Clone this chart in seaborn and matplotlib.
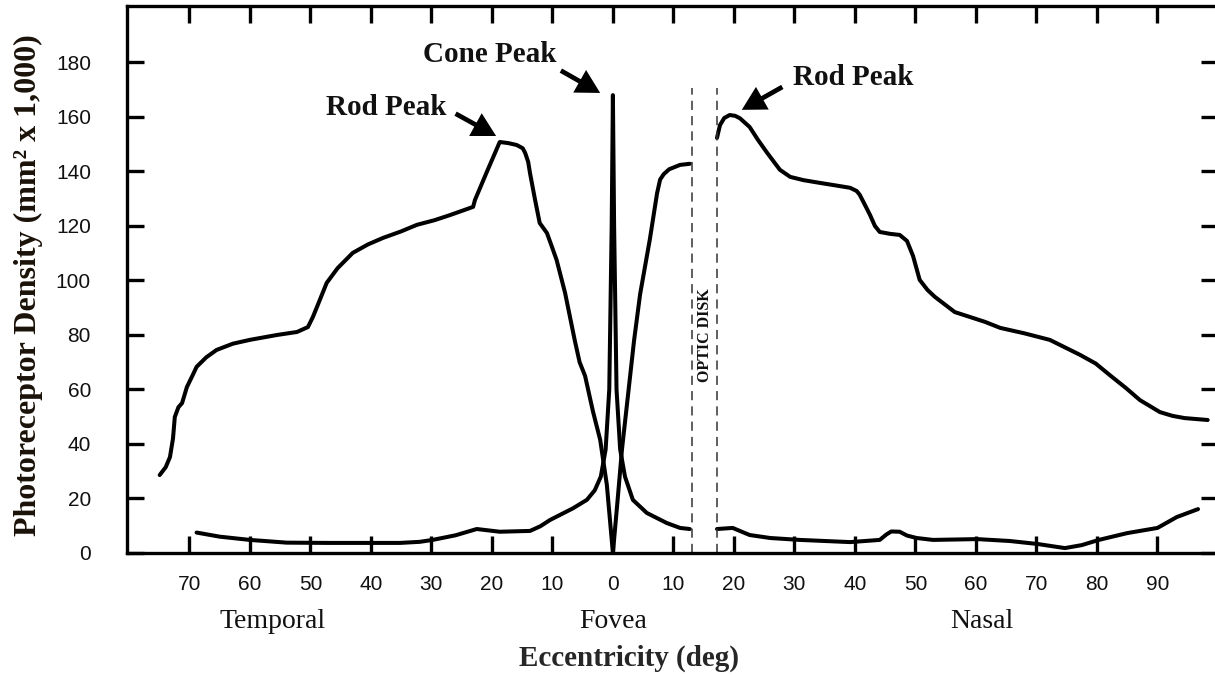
import numpy as np
import pandas as pd
import matplotlib
matplotlib.use("Agg")
import matplotlib.pyplot as plt
import matplotlib.transforms as mtransforms
import seaborn as sns

# ---------------- data (eccentricity: temporal negative, nasal positive) ----------------
rod_temporal_x = [-74.9, -73.9, -73.2, -72.7, -72.4, -71.8, -71.2, -70.4, -69.5, -68.8, -67.2, -65.5, -62.8,
                  -60.0, -55.5, -52.2, -50.4, -49.6, -48.9, -47.3, -45.5, -43.0, -40.5, -38.0, -35.0,
                  -32.4, -29.5, -26.9, -23.1, -22.8, -20.8, -18.7, -17.3, -15.9, -14.9, -14.5, -14.0,
                  -13.7, -12.9, -12.1, -10.9, -10.1, -9.3, -7.9, -6.3, -5.5, -4.6, -3.3, -2.1, -1.0, 0.0,
                  0.8, 1.5, 2.5, 3.5, 4.5, 6.1, 7.3, 7.8, 8.4, 9.3, 11.1, 12.7]
rod_temporal_y = [28.6, 31.5, 35.2, 42.0, 49.9, 53.5, 55.0, 60.9, 65.0, 68.3, 71.8, 74.5, 76.8,
                  78.2, 80.0, 81.1, 82.9, 86.5, 90.3, 99.1, 104.5, 110.1, 113.2, 115.6, 118.0,
                  120.4, 122.1, 124.0, 127.0, 129.5, 140.0, 150.8, 150.4, 149.7, 148.5, 146.8, 143.5,
                  139.4, 130.0, 121.1, 117.4, 112.5, 107.5, 95.4, 78.0, 70.0, 65.0, 52.0, 41.5, 25.0, 0.0,
                  20.0, 38.0, 58.0, 78.0, 95.0, 115.0, 132.0, 137.0, 139.0, 140.8, 142.4, 142.8]

rod_nasal_x = [17.2, 17.7, 18.4, 19.3, 20.2, 21.0, 22.6, 24.0, 25.5, 27.6, 29.3, 31.5, 34.2, 37.0,
               39.2, 40.3, 40.8, 41.7, 42.5, 43.3, 44.1, 45.8, 47.4, 48.6, 49.6, 50.7, 52.0, 53.2,
               56.5, 61.5, 64.0, 68.0, 72.2, 77.2, 79.8, 82.1, 84.8, 87.1, 90.4, 92.5, 94.5, 98.3]
rod_nasal_y = [152.3, 157.0, 159.6, 160.7, 160.4, 159.5, 156.3, 151.5, 146.8, 140.6, 138.0, 136.8, 135.8, 134.8,
               134.0, 132.8, 131.4, 127.5, 124.0, 120.0, 117.8, 117.1, 116.7, 114.5, 109.0, 100.2, 96.5, 94.0,
               88.4, 84.8, 82.6, 80.6, 78.2, 72.7, 69.5, 65.3, 60.5, 56.1, 51.7, 50.3, 49.5, 48.8]

cone_temporal_x = [-68.8, -65.0, -60.0, -53.9, -47.0, -40.2, -35.2, -31.9, -29.8, -26.0, -22.5, -18.7,
                   -13.7, -12.0, -10.4, -6.6, -4.3, -3.0, -2.0, -1.2, -0.6, -0.2, 0.0, 0.2, 0.6, 1.2, 2.0,
                   3.3, 5.6, 8.9, 11.1, 12.7]
cone_temporal_y = [7.5, 6.0, 4.8, 3.8, 3.7, 3.7, 3.7, 4.1, 4.8, 6.5, 8.8, 7.8,
                   8.1, 9.8, 12.1, 16.4, 19.5, 23.0, 28.0, 38.0, 60.0, 120.0, 168.0, 120.0, 60.0, 38.0, 28.0,
                   19.5, 14.7, 11.0, 9.2, 8.8]

cone_nasal_x = [17.2, 19.8, 21.3, 22.6, 26.0, 30.9, 39.2, 44.1, 45.2, 46.0, 47.4, 48.6, 50.2, 52.9, 60.2,
                65.6, 70.2, 74.7, 77.5, 80.3, 85.0, 90.0, 91.6, 93.2, 96.7]
cone_nasal_y = [8.8, 9.2, 7.8, 6.6, 5.5, 4.8, 4.0, 4.8, 6.8, 7.9, 7.8, 6.4, 5.5, 4.8, 5.1,
                4.4, 3.3, 1.8, 2.9, 4.8, 7.3, 9.2, 11.2, 13.2, 16.1]

x_ticks = [-70, -60, -50, -40, -30, -20, -10, 0, 10, 20, 30, 40, 50, 60, 70, 80, 90]
x_tick_labels = [str(abs(v)) for v in x_ticks]
y_ticks = [0, 20, 40, 60, 80, 100, 120, 140, 160, 180]

optic_disk_edges = [13.1, 17.2]
region_labels = ["Temporal", "Fovea", "Nasal"]
region_label_x = [-56.2, 0.0, 61.0]

annotations = [
    # text, text position, arrow tail, arrow tip
    ("Cone Peak", (-20.3, 182.8), (-8.6, 177.0), (-2.1, 168.8)),
    ("Rod Peak", (-37.5, 163.3), (-26.0, 161.2), (-19.3, 153.0)),
    ("Rod Peak", (39.7, 174.3), (28.0, 171.0), (21.3, 162.6)),
]

# ---------------- figure ----------------
sns.set_theme(style="ticks")
plt.rcParams["font.family"] = ["Liberation Sans", "DejaVu Sans"]

W, H = 1215, 677
fig = plt.figure(figsize=(W / 100, H / 100), dpi=100)
left_px, right_px, top_px, bottom_px = 127, 1218, 6, 553
ax = fig.add_axes([left_px / W, (H - bottom_px) / H,
                   (right_px - left_px) / W, (bottom_px - top_px) / H])

segments = [
    (rod_temporal_x, rod_temporal_y),
    (rod_nasal_x, rod_nasal_y),
    (cone_temporal_x, cone_temporal_y),
    (cone_nasal_x, cone_nasal_y),
]
for xs, ys in segments:
    df = pd.DataFrame({"ecc": xs, "density": ys})
    sns.lineplot(data=df, x="ecc", y="density", sort=False, estimator=None,
                 color="black", lw=2.9, ax=ax,
                 solid_capstyle="round", solid_joinstyle="round")

# optic disk dashed lines
for xv in optic_disk_edges:
    ax.plot([xv, xv], [0, 170.6], color="#333333", lw=1.1, ls=(0, (6, 4)))
ax.text(sum(optic_disk_edges) / 2, 80, "OPTIC DISK", rotation=90, ha="center", va="center",
        family="Liberation Serif", fontweight="bold", fontsize=11.5, color="#111111")

ax.set_xlim(-80.3, 100.0)
ax.set_ylim(0, 200.7)
ax.set_xticks(x_ticks)
ax.set_xticklabels(x_tick_labels)
ax.set_yticks(y_ticks)

for s in ax.spines.values():
    s.set_linewidth(2.4)
    s.set_color("black")
    s.set_visible(True)

ax.tick_params(axis="both", which="major", direction="in", length=12.5, width=2.4,
               top=True, right=True, labelsize=15, colors="black")
ax.tick_params(axis="x", pad=16)
ax.tick_params(axis="y", pad=26)
for lab in ax.get_xticklabels() + ax.get_yticklabels():
    lab.set_fontfamily("Liberation Sans")
    lab.set_color("#111111")

ax.set_xlabel("Eccentricity (deg)", family="Liberation Serif", fontweight="bold", fontsize=21)
ax.set_ylabel("Photoreceptor Density (mm² x 1,000)", family="Liberation Serif",
              fontweight="bold", fontsize=23, color="#1a1208")
ax.xaxis.set_label_coords((629 - left_px) / (right_px - left_px), (bottom_px - 645) / (bottom_px - top_px))
ax.yaxis.set_label_coords((43 - left_px) / (right_px - left_px), (bottom_px - 285) / (bottom_px - top_px))

trans = mtransforms.blended_transform_factory(ax.transData, ax.transAxes)
for name, xv in zip(region_labels, region_label_x):
    ax.text(xv, (bottom_px - 622) / (bottom_px - top_px), name, transform=trans,
            ha="center", va="center", family="Liberation Serif", fontsize=20, color="#111111")

for text, txy, tail, tip in annotations:
    ax.text(txy[0], txy[1], text, ha="center", va="center", family="Liberation Serif",
            fontweight="bold", fontsize=21, color="#111111")
    ax.annotate("", xy=tip, xytext=tail,
                arrowprops=dict(arrowstyle="simple,head_length=1.0,head_width=1.1,tail_width=0.2",
                                mutation_scale=17, lw=0, fc="black", ec="none",
                                shrinkA=0, shrinkB=0))

fig.savefig("out.png", dpi=100)
